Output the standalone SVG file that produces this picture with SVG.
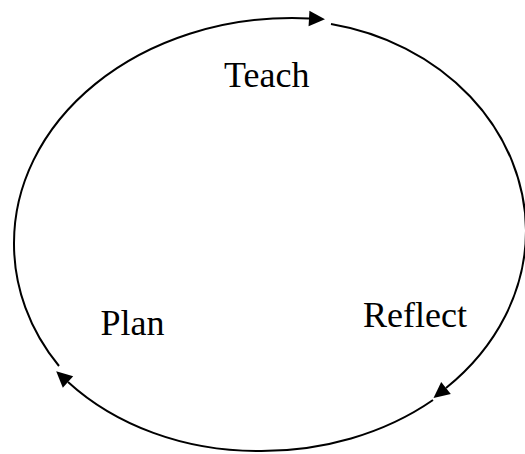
<svg xmlns="http://www.w3.org/2000/svg" width="525" height="454" viewBox="0 0 525 454">
  <style>
    .lbl { font-family: "Liberation Serif", "Times New Roman", serif; font-size: 36px; fill: #000; }
    .arc { fill: none; stroke: #000; stroke-width: 2; marker-end: url(#arrow); }
  </style>
  <defs>
    <marker id="arrow" markerUnits="userSpaceOnUse" markerWidth="17" markerHeight="16" refX="0" refY="7.7" orient="auto" overflow="visible">
      <path d="M0,0 L16,7.7 L0,15.4 z" fill="#000"/>
    </marker>
  </defs>
  <rect width="525" height="454" fill="#fff"/>
  <g id="connectors">
    <path id="plan-to-teach" class="arc" d="M59,366 A236,208 0 0 1 14,243 A278,225 0 0 1 292,18 A278,225 0 0 1 309,18.5"/>
    <path id="teach-to-reflect" class="arc" d="M331,24 A241,212 0 0 1 526,230 A256,217 0 0 1 446,388"/>
    <path id="reflect-to-plan" class="arc" d="M433,400 A260,205 0 0 1 257,451 A253,205 0 0 1 68,382"/>
  </g>
  <g id="teach"><text class="lbl" x="224" y="87">Teach</text></g>
  <g id="reflect"><text class="lbl" x="363" y="327">Reflect</text></g>
  <g id="plan"><text class="lbl" x="100.5" y="335">Plan</text></g>
</svg>
